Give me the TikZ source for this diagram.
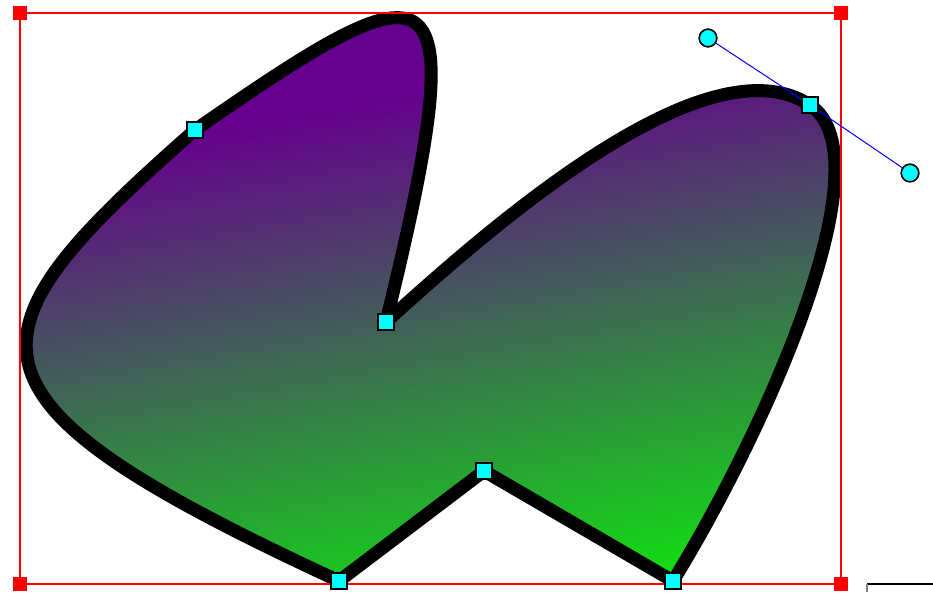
\documentclass[tikz,border=0pt]{standalone}
\usetikzlibrary{positioning}
\definecolor{lobepurple}{RGB}{102,0,142}
\definecolor{lobegreen}{RGB}{15,228,15}
\definecolor{handlecyan}{RGB}{0,255,255}
\pgfdeclareverticalshading{lobeshade}{100bp}{color(0bp)=(lobegreen); color(24.5bp)=(lobegreen);
    color(66.4bp)=(lobepurple); color(100bp)=(lobepurple)}
\newcommand{\lobepath}{(386,322) .. controls (497,221) and (708,38) .. (810,105)
    .. controls (890,159) and (760,440) .. (673,581)
    -- (484,471) -- (339,581)
    .. controls (-61,396) and (-41,338) .. (195,130)
    .. controls (441,-41) and (476,-46) .. cycle}
\begin{document}
\begin{tikzpicture}[x=1pt, y=-1pt,
    knot/.style={draw=black, line width=2pt, fill=handlecyan, minimum size=15.5pt, inner sep=0pt},
    ctrl/.style={circle, draw=black, line width=1.5pt, fill=handlecyan, minimum size=17.5pt, inner sep=0pt},
    corner/.style={fill=red, minimum size=14pt, inner sep=0pt}
]
    \useasboundingbox (0,0) rectangle (933,592);
    % the filled outline
    \begin{scope}
        \clip \lobepath;
        \shade[shading=lobeshade, shading angle=10] (0,0) rectangle (933,592);
    \end{scope}
    \draw[black, line width=13pt, line join=round] \lobepath;
    % bounding frame
    \node[corner] (tl) at (20,13) {};
    \node[corner] (tr) at (841,13) {};
    \node[corner] (br) at (841,584) {};
    \node[corner] (bl) at (20,584) {};
    \draw[red, line width=2pt] (tl.center) -- (tr.center) -- (br.center) -- (bl.center) -- cycle;
    % tangent of the selected knot
    \node[ctrl] (cin) at (708,38) {};
    \node[ctrl] (cout) at (910,173) {};
    \node[knot] (k3) at (810,105) {};
    \draw[blue, line width=1pt] (cin) -- (k3) -- (cout);
    \node[ctrl] at (cin) {};
    \node[ctrl] at (cout) {};
    \node[knot] at (k3) {};
    % other knots
    \node[knot] (k1) at (195,130) {};
    \node[knot] (k2) at (386,322) {};
    \node[knot] (k4) at (673,581) {};
    \node[knot] (k5) at (484,471) {};
    \node[knot] (k6) at (339,581) {};
    % edge of the window below
    \coordinate (tabl) at (867,584);
    \coordinate (tabr) at (933,584);
    \coordinate (tabd) at (867,592);
    \draw[black, line width=1.5pt] (tabl) -- (tabr);
    \draw[gray, line width=1.5pt] (tabl) -- (tabd);
\end{tikzpicture}
\end{document}
